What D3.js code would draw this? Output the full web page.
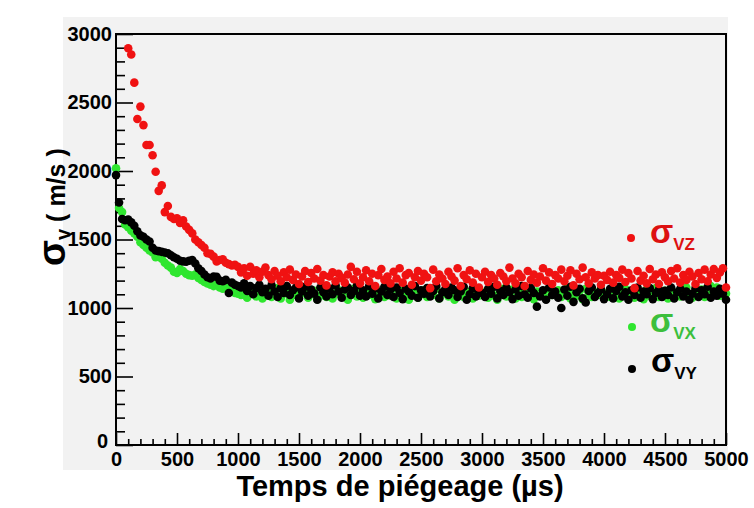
<!DOCTYPE html>
<html><head><meta charset="utf-8">
<script src="https://cdn.jsdelivr.net/npm/d3@7"></script>
<style>
html,body{margin:0;padding:0;background:#fff;}
svg{display:block;font-family:"Liberation Sans",Arial,sans-serif;font-weight:bold;}
</style></head>
<body><svg id="c" width="754" height="508"></svg>
<script>
// sampling grid (µs)
const timesUs = d3.range(0, 5001, 25);
const redStartIndex = 4; // red series begins at 100 µs

const sigmaVY = [
1970,1770,1650,1640,1645,1625,1600,1560,1530,1520,
1500,1485,1440,1420,1415,1410,1405,1400,1385,1370,
1360,1345,1340,1338,1345,1350,1325,1290,1270,1245,
1225,1215,1230,1228,1200,1195,1205,1110,1185,1170,
1160,
1150,1180,1125,1160,1100,1145,1170,1115,1140,1090,
1165,1120,1080,1145,1110,1160,1095,1130,1150,1070,
1120,1155,1090,1135,1105,1060,1150,1115,1085,1140,
1100,1165,1120,1075,1135,1150,1095,1125,1165,1090,
1130,1085,1160,1105,1145,1070,1120,1155,1095,1135,
1080,1150,1110,1065,1140,1120,1090,1160,1075,1130,
1105,1145,1085,1125,1160,1070,1115,1140,1095,1150,
1130,1080,1120,1155,1060,1100,1145,1085,1125,1110,
1080,1140,1105,1155,1070,1125,1095,1150,1115,1065,
1135,1090,1160,1100,1075,1145,1110,1010,1085,1130,
1060,1150,1095,1120,1075,1000,1135,1090,1155,1045,
1115,1140,1070,1040,1125,1150,1080,1110,1135,1065,
1100,1140,1070,1125,1155,1085,1115,1060,1130,1095,
1150,1075,1120,1100,1145,1065,1110,1135,1080,1125,
1095,1150,1070,1115,1140,1085,1120,1060,1105,1145,
1080,1130,1100,1155,1075,1120,1090,1140,1105,1060
];

const sigmaVX = [
2020,1730,1700,1610,1590,1565,1545,1520,1480,1460,
1440,1420,1405,1370,1390,1360,1330,1310,1295,1265,
1255,1285,1270,1250,1240,1235,1245,1220,1205,1190,
1180,1170,1160,1175,1150,1140,1155,1130,1120,1110,
1105,
1095,1130,1075,1110,1140,1085,1120,1070,1100,1135,
1080,1115,1145,1070,1105,1125,1060,1095,1130,1085,
1110,1140,1075,1100,1125,1065,1090,1135,1080,1115,
1070,1105,1130,1090,1120,1060,1100,1140,1085,1110,
1075,1120,1095,1135,1065,1105,1130,1080,1115,1090,
1140,1070,1100,1125,1085,1060,1110,1135,1075,1100,
1130,1080,1115,1095,1140,1070,1105,1125,1085,1110,
1060,1095,1130,1080,1120,1100,1070,1135,1090,1115,
1105,1075,1125,1090,1060,1115,1140,1085,1100,1135,
1070,1110,1080,1125,1095,1140,1065,1120,1090,1105,
1075,1135,1095,1115,1130,1080,1100,1145,1070,1110,
1090,1125,1065,1140,1100,1080,1115,1095,1135,1085,
1110,1080,1130,1095,1070,1120,1140,1085,1105,1075,
1125,1100,1065,1135,1090,1115,1145,1080,1100,1125,
1070,1140,1095,1110,1085,1130,1150,1100,1075,1120,
1095,1135,1080,1110,1160,1100,1150,1090,1130,1105
];

const sigmaVZ = [
2896,2850,2645,2380,2470,2335,2190,2190,2115,1995,
1855,1895,1700,1745,1665,1650,1655,1620,1640,1595,
1570,1545,1500,1480,1460,1440,1400,1395,1375,1340,
1350,1355,1330,1320,1310,1315,1300,
1260,1290,1235,1300,1250,1275,1225,1265,1295,1240,
1210,1270,1235,1195,1260,1225,1280,1205,1245,1175,
1230,1270,1190,1255,1215,1285,1200,1240,1165,1230,
1260,1195,1250,1220,1185,1245,1300,1210,1265,1180,
1225,1275,1195,1250,1160,1240,1285,1205,1230,1180,
1265,1215,1290,1185,1240,1255,1170,1225,1270,1200,
1250,1225,1145,1280,1195,1245,1215,1175,1265,1230,
1200,1290,1160,1240,1210,1275,1185,1250,1150,1225,
1265,1190,1240,1215,1170,1255,1230,1195,1295,1215,
1180,1250,1225,1160,1270,1205,1245,1185,1230,1290,
1200,1260,1175,1240,1215,1280,1195,1235,1275,1165,
1250,1210,1295,1225,1180,1260,1215,1240,1170,1235,
1205,1265,1185,1240,1220,1280,1190,1255,1215,1145,
1270,1200,1235,1180,1285,1210,1245,1175,1260,1225,
1195,1270,1215,1290,1185,1240,1205,1265,1230,1175,
1255,1210,1280,1195,1245,1285,1220,1260,1290,1150
];

const xMajorTicks = [0,500,1000,1500,2000,2500,3000,3500,4000,4500,5000];
const yMajorTicks = [0,500,1000,1500,2000,2500,3000];
const xTitle = "Temps de piégeage (µs)";
const legendItems = [
  {label:"σ", sub:"VZ", key:"vz"},
  {label:"σ", sub:"VX", key:"vx"},
  {label:"σ", sub:"VY", key:"vy"}
];

const colors = {vz:"#f01212", vx:"#2fe62f", vy:"#000000"};
const textColors = {vz:"#dd1111", vx:"#3cbf3c", vy:"#000000"};

const svg = d3.select("#c");
const L=116, R=726, T=34, B=445;

svg.append("rect").attr("x",63).attr("y",17).attr("width",665).attr("height",453).attr("fill","#f2f2f2");

const x = d3.scaleLinear().domain([0,5000]).range([L,R]);
const y = d3.scaleLinear().domain([0,3000]).range([B,T]);

// minor ticks
const xMinor = d3.range(0,5001,100).filter(v=>v%500!==0);
const yMinor = d3.range(0,3001,100).filter(v=>v%500!==0);

const gx = svg.append("g").attr("transform",`translate(0,${B})`);
gx.call(d3.axisBottom(x).tickValues(xMinor).tickSize(-6).tickFormat(""));
gx.call(g=>g.select(".domain").remove());
const gx2 = svg.append("g").attr("transform",`translate(0,${B})`);
gx2.call(d3.axisBottom(x).tickValues(xMajorTicks).tickSize(-12).tickPadding(7).tickFormat(d3.format("d")));
gx2.select(".domain").remove();

const gy = svg.append("g").attr("transform",`translate(${L},0)`);
gy.call(d3.axisLeft(y).tickValues(yMinor).tickSize(-9).tickFormat(""));
gy.select(".domain").remove();
const gy2 = svg.append("g").attr("transform",`translate(${L},0)`);
gy2.call(d3.axisLeft(y).tickValues(yMajorTicks).tickSize(-17).tickPadding(4).tickFormat(d3.format("d")));
gy2.select(".domain").remove();

svg.selectAll(".tick line").attr("stroke","#000").attr("stroke-width",1.6);
svg.selectAll(".tick text").attr("fill","#000").attr("font-size",20).attr("font-weight","bold")
   .attr("font-family","'Liberation Sans',Arial,sans-serif");
gy2.selectAll(".tick").filter(d=>d===0).select("text").attr("x",-8).attr("dy","0.1em");

// frame
svg.append("rect").attr("x",L).attr("y",T).attr("width",R-L).attr("height",B-T)
  .attr("fill","none").attr("stroke","#000").attr("stroke-width",2);

// data
function drawSeries(vals, times, color){
  svg.append("g").selectAll("circle").data(vals).join("circle")
    .attr("cx",(d,i)=>x(times[i])).attr("cy",d=>y(d)).attr("r",4.3).attr("fill",color);
}
drawSeries(sigmaVX, timesUs, colors.vx);
drawSeries(sigmaVY, timesUs, colors.vy);
drawSeries(sigmaVZ, timesUs.slice(redStartIndex), colors.vz);

// legend
const legPos = [{dx:631,dy:238,tx:650,ty:243},{dx:632,dy:327,tx:650,ty:332},{dx:632,dy:369,tx:651,ty:372}];
legendItems.forEach((it,i)=>{
  const p = legPos[i];
  svg.append("circle").attr("cx",p.dx).attr("cy",p.dy).attr("r",4).attr("fill",colors[it.key]);
  const t = svg.append("text").attr("x",p.tx).attr("y",p.ty).attr("fill",textColors[it.key]);
  t.append("tspan").attr("font-size",34).text(it.label);
  t.append("tspan").attr("font-size",17).attr("dy",7).text(it.sub);
});

// axis titles
svg.append("text").attr("x",400).attr("y",496).attr("text-anchor","middle")
  .attr("font-size",29).attr("fill","#000").text(xTitle);

const yt = svg.append("text").attr("transform","translate(65,266) rotate(-90)")
  .attr("text-anchor","start").attr("fill","#000");
yt.append("tspan").attr("font-size",38).text("σ");
yt.append("tspan").attr("font-size",20).attr("dy",5).text("v");
yt.append("tspan").attr("font-size",25).attr("dy",-5).attr("dx",7).text("( m/s )");
</script></body></html>
